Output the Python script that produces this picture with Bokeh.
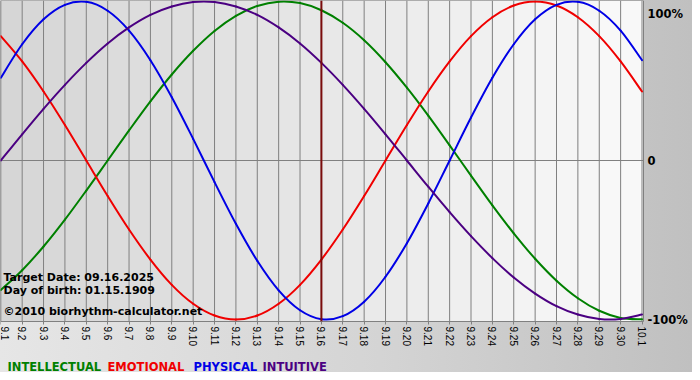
import math
from bokeh.plotting import figure
from bokeh.models import Range1d, FixedTicker, Label, LinearAxis
from bokeh.embed import file_html
from bokeh.resources import INLINE

# ---------------- data ----------------
day_labels = ["9.1", "9.2", "9.3", "9.4", "9.5", "9.6", "9.7", "9.8", "9.9", "9.10",
              "9.11", "9.12", "9.13", "9.14", "9.15", "9.16", "9.17", "9.18", "9.19", "9.20",
              "9.21", "9.22", "9.23", "9.24", "9.25", "9.26", "9.27", "9.28", "9.29", "9.30",
              "10.1"]
days = list(range(len(day_labels)))

intellectual = [-0.815, -0.690, -0.541, -0.372, -0.189, 0.000, 0.189, 0.372, 0.541, 0.690,
                0.815, 0.910, 0.972, 0.999, 0.990, 0.945, 0.866, 0.756, 0.618, 0.458,
                0.282, 0.095, -0.095, -0.282, -0.458, -0.618, -0.756, -0.866, -0.945, -0.990,
                -0.999]
emotional = [0.782, 0.623, 0.434, 0.223, 0.000, -0.223, -0.434, -0.623, -0.782, -0.901,
             -0.975, -1.000, -0.975, -0.901, -0.782, -0.623, -0.434, -0.223, 0.000, 0.223,
             0.434, 0.623, 0.782, 0.901, 0.975, 1.000, 0.975, 0.901, 0.782, 0.623,
             0.434]
physical = [0.520, 0.731, 0.888, 0.979, 0.998, 0.942, 0.817, 0.631, 0.398, 0.136,
            -0.136, -0.398, -0.631, -0.817, -0.942, -0.998, -0.979, -0.888, -0.731, -0.520,
            -0.270, 0.000, 0.270, 0.520, 0.731, 0.888, 0.979, 0.998, 0.942, 0.817,
            0.631]
intuitive = [0.000, 0.165, 0.325, 0.476, 0.614, 0.736, 0.837, 0.916, 0.969, 0.997,
             0.997, 0.969, 0.916, 0.837, 0.736, 0.614, 0.476, 0.325, 0.165, 0.000,
             -0.165, -0.325, -0.476, -0.614, -0.736, -0.837, -0.916, -0.969, -0.997, -0.997,
             -0.969]

series_names = ["INTELLECTUAL", "EMOTIONAL", "PHYSICAL", "INTUITIVE"]
series_values = [intellectual, emotional, physical, intuitive]
series_colors = ["#008000", "#f00000", "#0000e6", "#4b0082"]

target_label = "9.16"
y_ticks = [-1, 0, 1]
y_tick_labels = ["-100%", "0", "100%"]
info_lines = ["Target Date: 09.16.2025", "Day of birth: 01.15.1909",
              "\u00a92010 biorhythm-calculator.net"]

# ---------------- layout (figure pixel coordinates) ----------------
W, H = 692, 372
SX = (641.5 - 0.3) / 30.0            # px per day
SY = 159.0                           # px per unit (100%)
X0 = -0.3 / SX                       # chart area left edge  (fig x = 0)
X1 = X0 + 643 / SX                   # chart area right edge (fig x = 643)
Y1 = 1.0 + 1.0 / SY                  # chart area top    (fig y = 0)
Y0 = Y1 - 321 / SY                   # chart area bottom (fig y = 321)
XE = X0 + W / SX                     # frame covers the whole figure
YE = Y1 - H / SY


def dx(px):  # figure pixel -> data x
    return X0 + px / SX


def dy(py):  # figure pixel -> data y
    return Y1 - py / SY


p = figure(width=W, height=H, output_backend="svg", toolbar_location=None,
           x_range=Range1d(X0, XE), y_range=Range1d(YE, Y1),
           y_axis_location="right",
           min_border_left=0, min_border_top=0,
           min_border_right=0, min_border_bottom=0)

p.border_fill_color = None
p.background_fill_color = None
p.outline_line_color = None
p.styles = {"background": "linear-gradient(90deg, #e6e6e6 0%, #d4d4d4 55%, #c0c0c0 100%)",
            "box-shadow": "-8px -8px 0 0 #d8d8d8"}
p.xgrid.grid_line_color = None
p.ygrid.grid_line_color = None

# background stripes per day inside the chart area (gradient left -> right)
stripe_start = [days[0] - 1] + days
stripe_left = [max(d, X0) for d in stripe_start]
stripe_right = [min(d + 1, X1) for d in stripe_start]
stripe_colors = []
for d in stripe_start:
    c = int(min(248, max(214, 214 + 1.22 * d)))
    stripe_colors.append("#%02x%02x%02x" % (c, c, c))
p.quad(left=stripe_left, right=stripe_right, bottom=Y0, top=Y1,
       fill_color=stripe_colors, line_color=None)

# grid lines inside the chart area
p.segment(x0=days, y0=[Y0] * len(days), x1=days, y1=[Y1] * len(days),
          line_color="#808080", line_width=1)
p.segment(x0=[X0], y0=[0], x1=[X1], y1=[0], line_color="#808080", line_width=1)
# chart area border
p.quad(left=[X0], right=[X1], bottom=[Y0], top=[Y1], fill_color=None,
       line_color="#808080", line_width=1)


# smooth curves through the daily values (Catmull-Rom -> cubic Bezier)
def bezier_parts(xs, ys):
    n = len(xs)
    out = {k: [] for k in ("x0", "y0", "x1", "y1", "cx0", "cy0", "cx1", "cy1")}
    for i in range(n - 1):
        a = max(i - 1, 0)
        b = min(i + 2, n - 1)
        out["x0"].append(xs[i]); out["y0"].append(ys[i])
        out["x1"].append(xs[i + 1]); out["y1"].append(ys[i + 1])
        out["cx0"].append(xs[i] + (xs[i + 1] - xs[a]) / 6.0)
        out["cy0"].append(ys[i] + (ys[i + 1] - ys[a]) / 6.0)
        out["cx1"].append(xs[i + 1] - (xs[b] - xs[i]) / 6.0)
        out["cy1"].append(ys[i + 1] - (ys[b] - ys[i]) / 6.0)
    return out


for vals, col in zip(series_values, series_colors):
    bp = bezier_parts(days, vals)
    p.bezier(line_color=col, line_width=2, line_cap="round", **bp)

# target day marker
t = days[day_labels.index(target_label)]
p.segment(x0=[t], y0=[Y0], x1=[t], y1=[Y1], line_color="#7a0c0c", line_width=2)

# x axis drawn at the bottom of the chart area
xa = p.xaxis[0]
xa.fixed_location = Y0
xa.ticker = FixedTicker(ticks=days)
xa.major_label_overrides = {d: l for d, l in zip(days, day_labels)}
xa.major_label_orientation = -math.pi / 2
xa.major_label_text_font = "Liberation Sans"
xa.major_label_text_font_size = "10px"
xa.major_label_text_color = "#000000"
xa.major_label_standoff = 2
xa.major_tick_in = 0
xa.major_tick_out = 3
xa.major_tick_line_color = "#808080"
xa.minor_tick_line_color = None
xa.axis_line_color = None


def style_y(ax, baseline):
    ax.major_label_text_font = "DejaVu Sans"
    ax.major_label_text_font_style = "bold"
    ax.major_label_text_font_size = "11.5px"
    ax.major_label_text_color = "#000000"
    ax.major_label_text_baseline = baseline
    ax.major_label_standoff = 4
    ax.major_tick_in = 0
    ax.major_tick_out = 0
    ax.minor_tick_line_color = None
    ax.axis_line_color = None


# y axis at the right edge of the chart area: lower ticks centred,
# the top tick hangs below the top edge (as in the original)
low_ticks = [tk for tk in y_ticks if tk < max(y_ticks)]
top_ticks = [max(y_ticks)]
labels_map = {tk: l for tk, l in zip(y_ticks, y_tick_labels)}

ya = p.yaxis[0]
ya.fixed_location = X1
ya.ticker = FixedTicker(ticks=low_ticks)
ya.major_label_overrides = {tk: labels_map[tk] for tk in low_ticks}
style_y(ya, "middle")

ya2 = LinearAxis(fixed_location=X1, ticker=FixedTicker(ticks=top_ticks),
                 major_label_overrides={tk: labels_map[tk] for tk in top_ticks})
style_y(ya2, "top")
p.add_layout(ya2, "right")

# info texts (inside chart, lower left)
for txt, base in zip(info_lines, [277, 290, 311]):
    p.add_layout(Label(x=dx(3), y=dy(base), text=txt, text_font="DejaVu Sans",
                       text_font_style="bold", text_font_size="11px",
                       text_color="#000000", text_baseline="alphabetic"))

# legend texts (below)
for name, col, px in zip(series_names, series_colors, [7, 107, 193, 262]):
    p.add_layout(Label(x=dx(px), y=dy(366), text=name, text_font="DejaVu Sans",
                       text_font_style="bold", text_font_size="11.5px",
                       text_color=col, text_baseline="alphabetic"))

open("out.html", "w").write(file_html(p, INLINE))
